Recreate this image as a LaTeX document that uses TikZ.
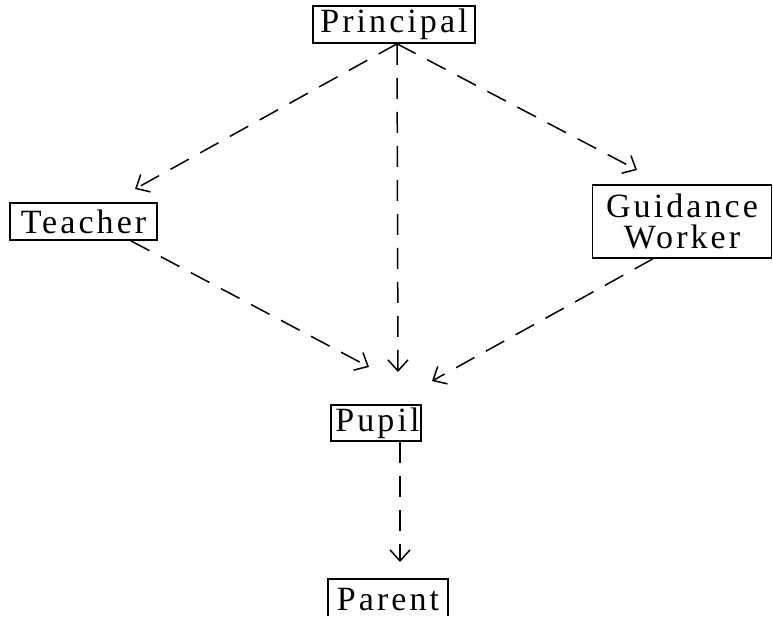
\documentclass[tikz,border=0pt]{standalone}
\usepackage{fontspec}
\newfontfamily\typewr{Liberation Serif}[LetterSpace=9]
\usetikzlibrary{arrows.meta,calc}
\tikzset{
  label font/.style={font=\typewr\fontsize{34}{32}\selectfont},
  box/.style={draw, line width=1.6pt, inner sep=0pt, label font},
  boxline/.style={line width=1.6pt},
  flow/.style={line width=1.5pt, dash pattern=on 21pt off 13pt,
               -{Straight Barb[length=11pt,width=20pt,line width=1.5pt]}}
}
\begin{document}
\begin{tikzpicture}[x=1pt,y=-1pt]
\useasboundingbox (0,0) rectangle (773,617);
% boxes
\node[box, minimum width=162pt, minimum height=37pt] (prin) at (394,24.5) {Principal};
\node[box, minimum width=147pt, minimum height=37pt] (teach) at (83.5,221.5) {Teacher};
\node[box, minimum width=179pt, minimum height=73pt, align=center] (guide) at (682,221.5) {Guidance\\[-1pt]Worker};
\node[box, minimum width=90pt, minimum height=36pt] (pupil) at (376,423) {\hspace*{3pt}Pupil};
% the lowest box runs off the bottom edge: only its top and sides show
\node[label font, inner sep=0pt, minimum width=120pt, minimum height=30pt] (parent) at (388,600) {Parent};
\draw[boxline] ([yshift=-1pt]parent.south west) -- ([yshift=6pt]parent.north west)
  -- ([yshift=6pt]parent.north east) -- ([yshift=-1pt]parent.south east);
% arrow tips
\coordinate (tipT) at (135,189);
\coordinate (tipG) at (637,170);
\coordinate (tipPP) at (398,372);
\coordinate (tipTP) at (369,367);
\coordinate (tipGP) at (432,381);
\coordinate (tipPa) at (400,562);
% connectors
\draw[flow] ([xshift=3pt]prin.south) -- (tipT);
\draw[flow] ([xshift=3pt]prin.south) -- (tipG);
\draw[flow] ([xshift=3pt]prin.south) -- (tipPP);
\draw[flow] ([xshift=-27pt]teach.south east) -- (tipTP);
\draw[flow] ([xshift=-29pt]guide.south) -- (tipGP);
\draw[flow] ([xshift=24pt]pupil.south) -- (tipPa);
\end{tikzpicture}
\end{document}
